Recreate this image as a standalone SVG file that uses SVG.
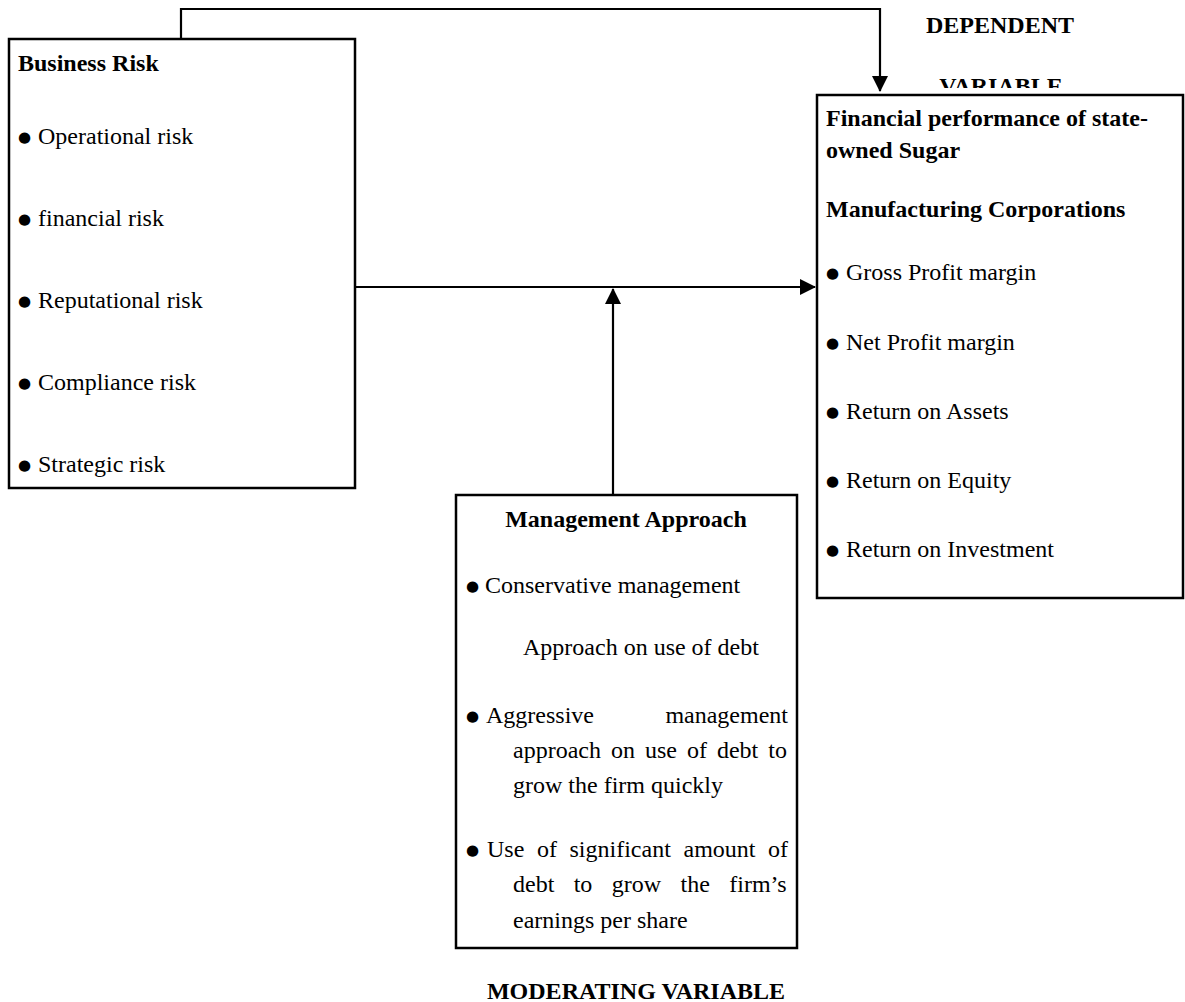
<svg xmlns="http://www.w3.org/2000/svg" width="1185" height="1002" viewBox="0 0 1185 1002">
<style>
.box{fill:#fff;stroke:#000;stroke-width:2.5}
.t{font-family:"Liberation Serif","Times New Roman",serif;font-size:24px;fill:#000}
.b{font-weight:bold}
.bul{font-family:"DejaVu Sans",sans-serif;font-size:15px;fill:#000}
.ln{fill:none;stroke:#000;stroke-width:2.2}
</style>
<defs>
<marker id="ah" markerWidth="16" markerHeight="16" refX="15" refY="8" orient="auto" markerUnits="userSpaceOnUse">
<path d="M0,0 L16,8 L0,16 Z" fill="#000"/>
</marker>
<clipPath id="clipV"><rect x="900" y="0" width="285" height="88"/></clipPath>
</defs>
<rect width="1185" height="1002" fill="#fff"/>
<text class="t b" x="1000" y="33" text-anchor="middle">DEPENDENT</text>
<text class="t b" x="1001" y="94" text-anchor="middle" clip-path="url(#clipV)">VARIABLE</text>
<g id="connectors">
<path class="ln" d="M181 39 V9 H880 V91" marker-end="url(#ah)"/>
<path class="ln" d="M354 287 H815" marker-end="url(#ah)"/>
<path class="ln" d="M613 495 V289" marker-end="url(#ah)"/>
</g>
<g id="business-risk">
<rect class="box" x="9" y="39" width="346" height="449"/>
<text class="t b" x="18" y="71">Business Risk</text>
<text class="bul" x="18" y="142">●</text><text class="t" x="38" y="144">Operational risk</text>
<text class="bul" x="18" y="224">●</text><text class="t" x="38" y="226">financial risk</text>
<text class="bul" x="18" y="306">●</text><text class="t" x="38" y="308">Reputational risk</text>
<text class="bul" x="18" y="388">●</text><text class="t" x="38" y="390">Compliance risk</text>
<text class="bul" x="18" y="470">●</text><text class="t" x="38" y="472">Strategic risk</text>
</g>
<g id="financial-performance">
<rect class="box" x="817" y="95" width="366" height="503"/>
<text class="t b" x="826" y="126">Financial performance of state-</text>
<text class="t b" x="826" y="158">owned Sugar</text>
<text class="t b" x="826" y="217">Manufacturing Corporations</text>
<text class="bul" x="826" y="278">●</text><text class="t" x="846" y="280">Gross Profit margin</text>
<text class="bul" x="826" y="348">●</text><text class="t" x="846" y="350">Net Profit margin</text>
<text class="bul" x="826" y="417">●</text><text class="t" x="846" y="419">Return on Assets</text>
<text class="bul" x="826" y="486">●</text><text class="t" x="846" y="488">Return on Equity</text>
<text class="bul" x="826" y="555">●</text><text class="t" x="846" y="557">Return on Investment</text>
</g>
<g id="management-approach">
<rect class="box" x="456" y="495" width="341" height="453"/>
<text class="t b" x="626" y="527" text-anchor="middle">Management Approach</text>
<text class="bul" x="466" y="591">●</text><text class="t" x="485" y="593">Conservative management</text>
<text class="t" x="523" y="655">Approach on use of debt</text>
<text class="bul" x="466" y="721">●</text><text class="t" x="486" y="723">Aggressive</text><text class="t" x="788" y="723" text-anchor="end">management</text>
<text class="t" x="513" y="758" word-spacing="4">approach on use of debt to</text>
<text class="t" x="513" y="793">grow the firm quickly</text>
<text class="bul" x="466" y="855">●</text><text class="t" y="857"><tspan x="487">Use</tspan><tspan x="537">of</tspan><tspan x="569.5">significant</tspan><tspan x="683.5">amount</tspan><tspan x="768">of</tspan></text>
<text class="t" y="892"><tspan x="513">debt</tspan><tspan x="573.7">to</tspan><tspan x="611.8">grow</tspan><tspan x="680.5">the</tspan><tspan x="729.3">firm’s</tspan></text>
<text class="t" x="513" y="928">earnings per share</text>
</g>
<text class="t b" x="636" y="999" text-anchor="middle">MODERATING VARIABLE</text>
</svg>
